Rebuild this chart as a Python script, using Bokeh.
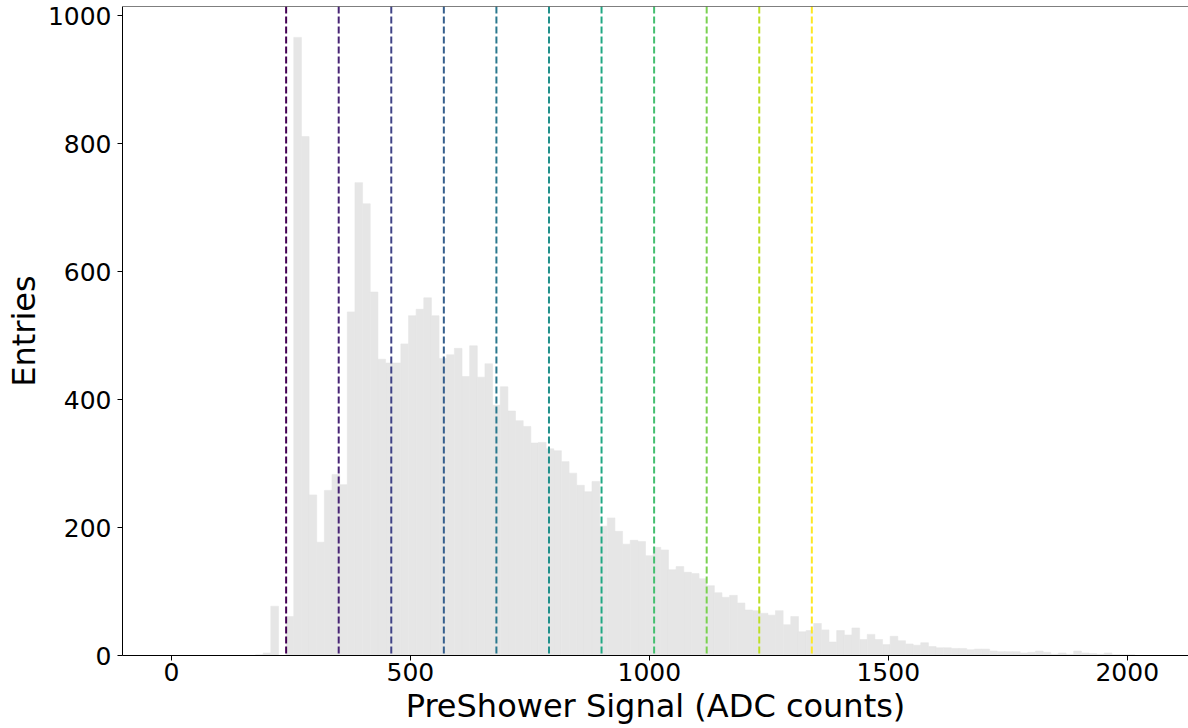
import numpy as np
from bokeh.plotting import figure
from bokeh.models import Span, Range1d, ColumnDataSource, FixedTicker
from bokeh.embed import file_html
from bokeh.resources import INLINE

# Histogram of the preshower signal: 128 bins of 16 ADC counts over [0, 2048)
bin_edges = np.arange(0, 2048 + 16, 16)
counts = [
    0, 0, 0, 0, 0, 0, 0, 0, 0, 0, 0, 1, 4, 77, 0, 61,
    966, 811, 251, 177, 258, 283, 267, 537, 739, 706, 568, 463, 457, 457, 487, 531,
    541, 559, 531, 464, 470, 480, 436, 484, 435, 456, 391, 420, 382, 367, 358, 332,
    333, 323, 320, 303, 285, 266, 256, 272, 202, 215, 194, 174, 180, 178, 156, 169,
    165, 134, 139, 130, 128, 120, 109, 98, 91, 94, 82, 71, 70, 66, 63, 70,
    48, 61, 37, 39, 50, 40, 21, 39, 32, 43, 25, 33, 25, 17, 30, 23,
    18, 16, 20, 14, 12, 12, 11, 11, 9, 10, 10, 7, 6, 6, 6, 4,
    5, 7, 5, 2, 4, 2, 7, 4, 3, 2, 4, 1, 1, 1, 0, 0,
]

# Threshold cuts drawn as dashed vertical lines, coloured along viridis
cut_values = [240, 350, 460, 570, 680, 790, 900, 1010, 1120, 1230, 1340]
cut_colors = ["#440154", "#482475", "#414487", "#355f8d", "#2a788e", "#21918c",
              "#22a884", "#44bf70", "#7ad151", "#bddf26", "#fde725"]

x_ticks = [0, 500, 1000, 1500, 2000]
y_ticks = [0, 200, 400, 600, 800, 1000]

y_top = max(counts) * 1.05

src = ColumnDataSource(dict(left=bin_edges[:-1], right=bin_edges[1:], top=counts))

p = figure(width=1188, height=728,
           x_range=Range1d(-102.4, 2128.2), y_range=Range1d(0, y_top),
           output_backend="svg", toolbar_location=None,
           min_border_left=122, min_border_right=0,
           min_border_top=6, min_border_bottom=73)

p.quad(left="left", right="right", bottom=0, top="top", source=src,
       fill_color="#e6e6e6", line_color="#e6e6e6", line_width=0.6)

for v, c in zip(cut_values, cut_colors):
    p.add_layout(Span(location=v, dimension="height", line_color=c,
                      line_width=2, line_dash="7 3"))

# top spine
p.add_layout(Span(location=y_top, dimension="width", line_color="black", line_width=1))

p.outline_line_color = None
p.grid.visible = False
p.background_fill_color = "white"
p.border_fill_color = "white"

p.xaxis.ticker = FixedTicker(ticks=x_ticks)
p.yaxis.ticker = FixedTicker(ticks=y_ticks)
p.xaxis.axis_label = "PreShower Signal (ADC counts)"
p.yaxis.axis_label = "Entries"

for ax in (p.xaxis, p.yaxis):
    ax.axis_line_color = "black"
    ax.axis_line_width = 1
    ax.major_tick_line_color = "black"
    ax.major_tick_line_width = 1
    ax.major_tick_out = 5
    ax.major_tick_in = 0
    ax.minor_tick_line_color = None
    ax.major_label_text_font = "DejaVu Sans"
    ax.major_label_text_font_size = "25px"
    ax.major_label_text_color = "black"
    ax.axis_label_text_font = "DejaVu Sans"
    ax.axis_label_text_font_size = "32px"
    ax.axis_label_text_font_style = "normal"
    ax.axis_label_text_color = "black"

p.xaxis.major_label_standoff = 2
p.yaxis.major_label_standoff = 6
p.xaxis.axis_label_standoff = 3
p.yaxis.axis_label_standoff = 2

open("out.html", "w").write(file_html(p, INLINE))
